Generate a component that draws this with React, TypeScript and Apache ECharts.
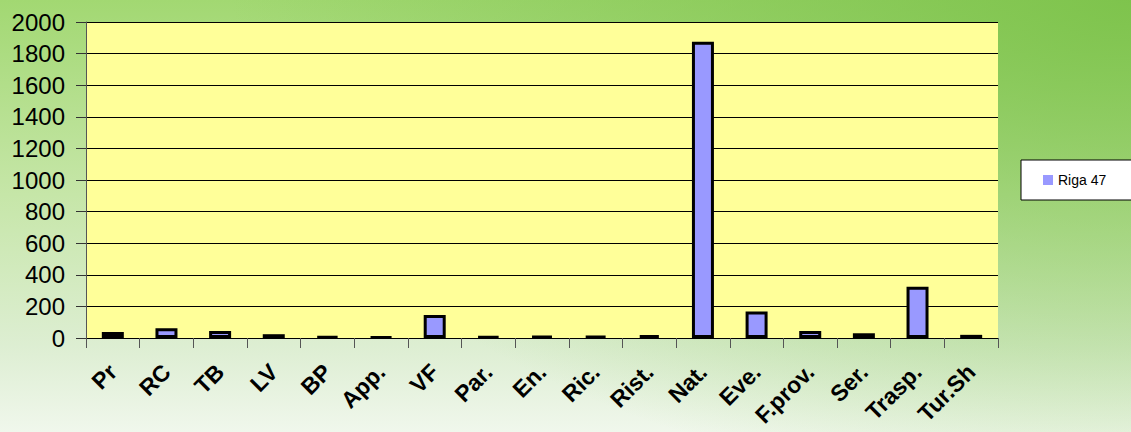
import React, { useEffect, useRef } from "react";
import * as echarts from "echarts";

const categories = ["Pr", "RC", "TB", "LV", "BP", "App.", "VF", "Par.", "En.", "Ric.", "Rist.", "Nat.", "Eve.", "F.prov.", "Ser.", "Trasp.", "Tur.Sh"];
const riga47 = [38, 62, 44, 24, 10, 6, 145, 9, 13, 13, 18, 1875, 167, 44, 30, 325, 20];
const yTicks = { min: 0, max: 2000, interval: 200 };

export default function App() {
  const ref = useRef<HTMLDivElement>(null);
  useEffect(() => {
    const chart = echarts.init(ref.current!, null, { renderer: "svg" });
    chart.setOption({
      animation: false,
      textStyle: { fontFamily: "Liberation Sans, Arial, sans-serif" },
      grid: { left: 86, right: 133, top: 22, bottom: 94, show: true, backgroundColor: "#ffff99", borderWidth: 0 },
      legend: {
        data: ["Riga 47"],
        left: 1021,
        top: 160,
        orient: "vertical",
        backgroundColor: "#ffffff",
        borderColor: "#000000",
        borderWidth: 1,
        borderRadius: 0,
        padding: [13, 40, 13, 22],
        itemWidth: 10,
        itemHeight: 10,
        icon: "rect",
        itemGap: 4,
        itemStyle: { borderWidth: 0 },
        textStyle: { fontSize: 14, color: "#000", fontFamily: "Liberation Sans, Arial, sans-serif" },
      },
      xAxis: {
        type: "category",
        data: categories,
        axisLine: { lineStyle: { color: "#000", width: 1 } },
        axisTick: { show: true, length: 10, lineStyle: { color: "#555" }, alignWithLabel: false },
        axisLabel: {
          rotate: 45,
          fontSize: 23,
          fontWeight: "bold",
          color: "#000",
          margin: 30,
          interval: 0,
          hideOverlap: false,
        },
      },
      yAxis: {
        type: "value",
        min: yTicks.min,
        max: yTicks.max,
        interval: yTicks.interval,
        axisLine: { show: true, lineStyle: { color: "#555", width: 1 } },
        axisTick: { show: true, length: 10, lineStyle: { color: "#333" } },
        axisLabel: { fontSize: 24, color: "#000", margin: 21, formatter: (v: number) => String(v) },
        splitLine: { lineStyle: { color: "#000", width: 1 } },
      },
      series: [
        {
          name: "Riga 47",
          type: "bar",
          data: riga47,
          barWidth: "41%",
          itemStyle: { color: "#9999ff", borderColor: "#000", borderWidth: 3 },
        },
      ],
    });
    return () => chart.dispose();
  }, []);
  return (
    <div
      style={{
        position: "fixed",
        left: 0,
        top: 0,
        width: 1131,
        height: 432,
        background:
          "radial-gradient(ellipse 900px 500px at 100% 0%, rgba(120,192,70,0.85) 0%, rgba(120,192,70,0) 100%), linear-gradient(to bottom, #a2d872 0%, #c6e6a8 45%, #ddeed2 80%, #f0f7ec 100%)",
      }}
    >
      <div ref={ref} style={{ width: 1131, height: 432 }} />
    </div>
  );
}
